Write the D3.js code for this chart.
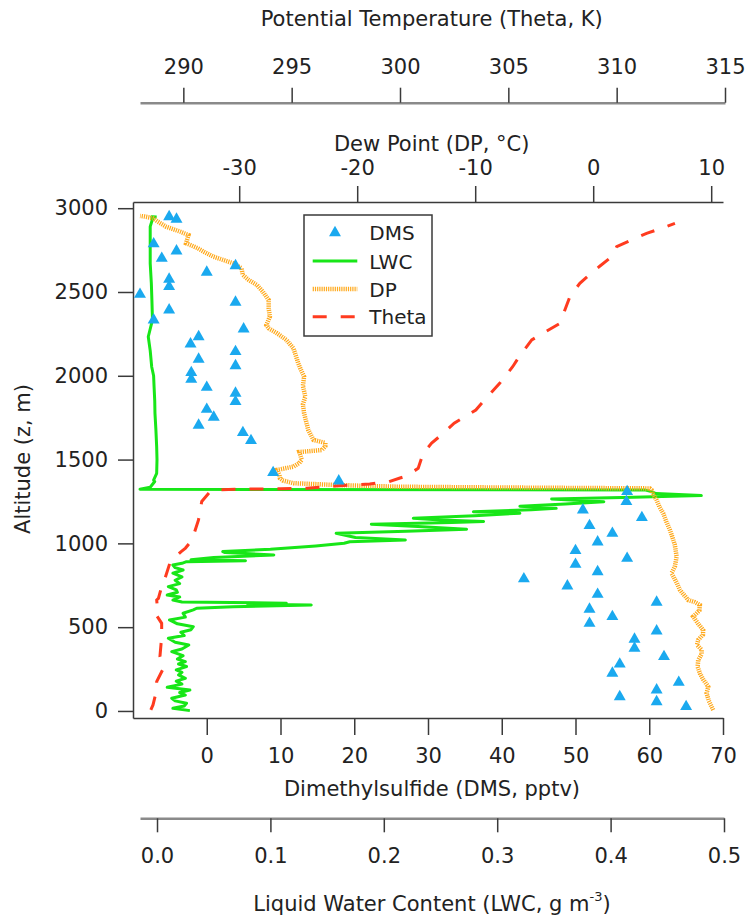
<!DOCTYPE html>
<html>
<head>
<meta charset="utf-8">
<script src="https://cdn.jsdelivr.net/npm/d3@7"></script>
<style>
body { margin: 0; background: #fff; }
svg { display: block; font-family: "DejaVu Sans", sans-serif; }
</style>
</head>
<body>
<svg id="chart" width="745" height="917"></svg>
<script>
// Profile data (altitude in m)
const dmsAlt = [2949, 2934, 2787, 2745, 2701, 2657, 2618, 2576, 2532, 2486, 2439, 2393, 2333, 2279, 2233, 2190,
    2144, 2099, 2060, 2019, 1979, 1931, 1896, 1846, 1800, 1753, 1705, 1661, 1613, 1422, 1372,
    1309, 1249, 1199, 1154, 1106, 1060, 1008, 957, 911, 875, 831, 788, 746, 696, 649, 607, 563, 523,
    477, 428, 374, 324, 280, 225, 171, 125, 85, 55, 26];
const dmsVal = [-5.1, -4.1, -7.2, -4.1, -6.1, 3.9, 0.0, -5.1, -5.1, -9.05, 3.9, -5.1, -7.2, 5.0, -1.1, -2.2,
    3.9, -1.1, 3.9, -2.1, -2.1, 0.0, 3.9, 3.9, 0.0, 0.95, -1.1, 4.9, 6.0, 9.0, 17.9,
    57.0, 56.9, 51.0, 59.0, 51.9, 55.0, 53.0, 50.0, 57.0, 50.0, 53.0, 43.0, 48.9, 53.0, 61.0, 51.9, 55.0, 51.9,
    61.0, 58.0, 58.0, 62.0, 56.0, 55.0, 64.0, 61.0, 56.0, 61.0, 65.0];

const lwcAlt = [2, 16, 30, 46, 60, 76, 95, 110, 125, 141, 160, 178, 195, 215, 230, 245, 265, 280, 294, 310,
    330, 354, 370, 394, 410, 434, 450, 470, 485, 503, 520, 543, 560, 583, 603, 613, 622, 632, 637, 643,
    650, 662, 680, 692, 708, 722, 742, 760, 780, 800, 822, 841, 855, 871, 881, 891, 897, 903, 915, 931,
    945, 951, 965, 985, 1001, 1010, 1020, 1035, 1060, 1072, 1084, 1100, 1114, 1125, 1130, 1140, 1150, 1165, 1180, 1189,
    1200, 1209, 1222, 1235, 1249, 1265, 1275, 1285, 1297, 1309, 1319, 1323, 1335, 1369, 1378, 1418, 1500, 1577, 1680, 1776,
    1850, 1936, 2000, 2054, 2150, 2233, 2333, 2450, 2552, 2671, 2791, 2890, 2935, 2949, 2947];
const lwcVal = [0.029, 0.014, 0.024, 0.026, 0.016, 0.013, 0.025, 0.020, 0.029, 0.009, 0.022, 0.017, 0.025, 0.019, 0.022, 0.017, 0.026, 0.019, 0.025, 0.018,
    0.023, 0.013, 0.022, 0.028, 0.016, 0.010, 0.024, 0.021, 0.030, 0.032, 0.018, 0.011, 0.025, 0.023, 0.032, 0.035, 0.067, 0.136, 0.080, 0.114,
    0.022, 0.014, 0.020, 0.009, 0.018, 0.017, 0.010, 0.020, 0.016, 0.022, 0.014, 0.023, 0.016, 0.014, 0.022, 0.026, 0.078, 0.030, 0.050, 0.103,
    0.060, 0.058, 0.100, 0.140, 0.165, 0.170, 0.219, 0.175, 0.158, 0.220, 0.273, 0.230, 0.189, 0.260, 0.288, 0.250, 0.226, 0.280, 0.320, 0.279,
    0.330, 0.352, 0.320, 0.360, 0.394, 0.348, 0.420, 0.480, 0.440, 0.436, 0.430, -0.015, -0.006, -0.002, -0.003, -0.0003, 0.0, -0.0003, -0.001, -0.0018,
    -0.002, -0.0026, -0.003, -0.0047, -0.006, -0.0077, -0.004, -0.0045, -0.005, -0.006, -0.006, -0.006, -0.004, -0.0046, -0.0003];

const dpAlt = [6, 60, 106, 145, 190, 225, 265, 304, 340, 364, 395, 424, 455, 483, 520, 563, 600, 632, 650, 662,
    692, 722, 762, 822, 861, 921, 990, 1040, 1080, 1130, 1180, 1220, 1259, 1300, 1319, 1328, 1331, 1334, 1338, 1343,
    1349, 1359, 1375, 1389, 1410, 1438, 1458, 1480, 1498, 1545, 1557, 1580, 1600, 1617, 1677, 1720, 1776, 1830, 1875, 1940,
    1995, 2040, 2075, 2120, 2164, 2214, 2254, 2283, 2303, 2353, 2400, 2452, 2502, 2542, 2572, 2602, 2641, 2671, 2690, 2711,
    2740, 2761, 2791, 2815, 2840, 2860, 2890, 2920, 2940, 2950, 2954];
const dpVal = [10.17, 9.8, 9.61, 9.75, 9.3, 9.04, 8.85, 8.9, 9.2, 9.19, 8.8, 8.9, 9.3, 9.32, 8.9, 8.47, 9.0, 9.04, 8.6, 8.05,
    7.7, 7.35, 7.1, 6.64, 6.92, 7.07, 6.92, 6.7, 6.5, 6.2, 5.93, 5.6, 5.37, 5.0, 4.95, 4.8, -2, -9, -16.4, -19.2,
    -22.0, -25.4, -26.3, -26.55, -26.6, -26.8, -25.4, -24.9, -24.7, -24.9, -23.0, -22.7, -22.7, -23.7, -24.15, -24.3, -24.5, -24.6, -24.4, -24.6,
    -24.5, -24.8, -25.0, -25.2, -25.4, -26.0, -26.8, -27.5, -27.7, -27.4, -27.5, -27.5, -28.0, -28.5, -29.2, -29.7, -29.8, -30.5, -31.3, -32.2,
    -33.0, -33.5, -34.5, -34.4, -34.3, -35.0, -36.2, -36.9, -37.3, -38.0, -38.4];

const thetaAlt = [6, 36, 125, 175, 255, 324, 443, 523, 583, 622, 662, 672, 742, 790, 891, 951, 972, 1020, 1140, 1250,
    1319, 1323, 1326, 1329, 1342, 1355, 1368, 1390, 1402, 1448, 1538, 1598, 1657, 1717, 1796, 1836, 1955, 2054, 2114, 2214,
    2254, 2313, 2472, 2552, 2621, 2655, 2711, 2771, 2815, 2850, 2880, 2910];
const thetaVal = [288.5, 288.6, 288.77, 288.77, 289.08, 288.92, 289.0, 289.0, 288.7, 288.8, 288.77, 288.85, 289.0, 289.15, 289.4, 289.9, 290.1, 290.4, 290.7, 290.85,
    291.3, 292.5, 294.5, 295.7, 297.0, 298.6, 299.5, 300.0, 300.3, 300.84, 301.07, 301.46, 302.0, 302.5, 303.5, 303.77, 304.6, 305.2, 305.5, 306.08,
    306.6, 307.38, 307.84, 308.3, 308.9, 309.23, 309.77, 310.0, 310.76, 311.38, 312.07, 312.69];

const altTicks = [0, 500, 1000, 1500, 2000, 2500, 3000];
const dmsTicks = [0, 10, 20, 30, 40, 50, 60, 70];
const dpTicks = [-30, -20, -10, 0, 10];
const thetaTicks = [290, 295, 300, 305, 310, 315];
const lwcTicks = [0, 0.1, 0.2, 0.3, 0.4, 0.5];

const legendNames = ["DMS", "LWC", "DP", "Theta"];

const colors = {
    dms: "#1aa9ef",
    lwc: "#18e618",
    dp: "#ffa91c",
    theta: "#ff3b1f",
    text: "#222",
    axis: "#3a3a3a",
    freeAxis: "#8a8a8a"
};

const svg = d3.select("#chart");
const frameLeft = 133, frameRight = 723, frameTop = 202, frameBottom = 718;

// scales
const y = d3.scaleLinear().domain([-42, 3037]).range([frameBottom, frameTop]);
const xDMS = d3.scaleLinear().domain([-10, 70]).range([frameLeft, frameRight]);
const xDP = d3.scaleLinear().domain([-39, 11]).range([frameLeft, frameRight]);
const xTheta = d3.scaleLinear().domain([288, 315]).range([140, 725]);
const xLWC = d3.scaleLinear().domain([-0.015, 0.5]).range([140, 724]);

const plain = d => String(d);

function styleAxis(g, domainColor, domainWidth) {
    g.attr("font-family", null).attr("font-size", null);
    g.selectAll("text").attr("fill", colors.text).style("font-size", "21px");
    g.selectAll(".tick line").attr("stroke", colors.axis).attr("stroke-width", 1.5);
    g.select(".domain").attr("stroke", domainColor).attr("stroke-width", domainWidth);
}

// left altitude axis
svg.append("g")
    .attr("transform", `translate(${frameLeft},0)`)
    .call(d3.axisLeft(y).tickValues(altTicks).tickSize(15).tickSizeOuter(0).tickPadding(10).tickFormat(plain))
    .call(g => styleAxis(g, colors.axis, 1.5));

// bottom DMS axis
svg.append("g")
    .attr("transform", `translate(0,${frameBottom})`)
    .call(d3.axisBottom(xDMS).tickValues(dmsTicks).tickSize(17).tickSizeOuter(0).tickPadding(13).tickFormat(plain))
    .call(g => styleAxis(g, colors.axis, 1.5));

// top dew point axis
svg.append("g")
    .attr("transform", `translate(0,${frameTop})`)
    .call(d3.axisTop(xDP).tickValues(dpTicks).tickSize(16).tickSizeOuter(0).tickPadding(11).tickFormat(plain))
    .call(g => styleAxis(g, colors.axis, 1.5));

// free theta axis
svg.append("g")
    .attr("transform", "translate(0,102.7)")
    .call(d3.axisTop(xTheta).tickValues(thetaTicks).tickSize(15).tickSizeOuter(0).tickPadding(14).tickFormat(plain))
    .call(g => styleAxis(g, colors.freeAxis, 2.5));

// free LWC axis
svg.append("g")
    .attr("transform", "translate(0,818.3)")
    .call(d3.axisBottom(xLWC).tickValues(lwcTicks).tickSize(14).tickSizeOuter(0).tickPadding(16).tickFormat(d3.format(".1f")))
    .call(g => styleAxis(g, colors.freeAxis, 2.5));

// axis titles
const titles = svg.append("g").attr("fill", colors.text).style("font-size", "21px").attr("text-anchor", "middle");
titles.append("text").attr("x", 431.7).attr("y", 26).text("Potential Temperature (Theta, K)");
titles.append("text").attr("x", 431.7).attr("y", 151).text("Dew Point (DP, °C)");
titles.append("text").attr("x", 432).attr("y", 796).text("Dimethylsulfide (DMS, pptv)");
const lwcTitle = titles.append("text").attr("x", 432).attr("y", 911);
lwcTitle.append("tspan").text("Liquid Water Content (LWC, g m");
lwcTitle.append("tspan").attr("dy", -10).style("font-size", "13px").text("-3");
lwcTitle.append("tspan").attr("dy", 10).text(")");
titles.append("text").attr("transform", "translate(30,459) rotate(-90)").text("Altitude (z, m)");

// series
const lwcData = lwcAlt.map((a, i) => ({ a, v: lwcVal[i] }));
const dpData = dpAlt.map((a, i) => ({ a, v: dpVal[i] }));
const thetaData = thetaAlt.map((a, i) => ({ a, v: thetaVal[i] }));
const dmsData = dmsAlt.map((a, i) => ({ a, v: dmsVal[i] }));

const plot = svg.append("g");

plot.append("path")
    .datum(lwcData)
    .attr("fill", "none")
    .attr("stroke", colors.lwc)
    .attr("stroke-width", 3)
    .attr("stroke-linejoin", "round")
    .attr("d", d3.line().x(d => xLWC(d.v)).y(d => y(d.a)));

plot.append("path")
    .datum(dpData)
    .attr("fill", "none")
    .attr("stroke", colors.dp)
    .attr("stroke-width", 4.5)
    .attr("stroke-dasharray", "1.2,1")
    .attr("d", d3.line().x(d => xDP(d.v)).y(d => y(d.a)));

plot.append("path")
    .datum(thetaData)
    .attr("fill", "none")
    .attr("stroke", colors.theta)
    .attr("stroke-width", 3)
    .attr("stroke-dasharray", "14,14")
    .attr("d", d3.line().x(d => xTheta(d.v)).y(d => y(d.a)));

plot.selectAll(".dms")
    .data(dmsData)
    .enter().append("path")
    .attr("class", "dms")
    .attr("transform", d => `translate(${xDMS(d.v)},${y(d.a)})`)
    .attr("fill", colors.dms)
    .attr("d", d3.symbol(d3.symbolTriangle, 62));

// legend
const legend = svg.append("g");
legend.append("rect")
    .attr("x", 304).attr("y", 215).attr("width", 128).attr("height", 121)
    .attr("fill", "#fff").attr("stroke", colors.axis).attr("stroke-width", 1.5);

const rows = [232.7, 261, 289, 316.7];
legendNames.forEach((name, i) => {
    const ly = rows[i];
    if (name === "DMS") {
        legend.append("path")
            .attr("transform", `translate(335,${ly})`)
            .attr("fill", colors.dms)
            .attr("d", d3.symbol(d3.symbolTriangle, 62));
    } else {
        const ln = legend.append("line")
            .attr("x1", 312.7).attr("x2", 357.3).attr("y1", ly).attr("y2", ly);
        if (name === "LWC") ln.attr("stroke", colors.lwc).attr("stroke-width", 3);
        if (name === "DP") ln.attr("stroke", colors.dp).attr("stroke-width", 4.5).attr("stroke-dasharray", "1.2,1");
        if (name === "Theta") ln.attr("stroke", colors.theta).attr("stroke-width", 3).attr("stroke-dasharray", "14,14");
    }
    legend.append("text")
        .attr("x", 369.3).attr("y", ly + 7.5)
        .attr("fill", colors.text)
        .style("font-size", "20px")
        .text(name);
});
</script>
</body>
</html>
